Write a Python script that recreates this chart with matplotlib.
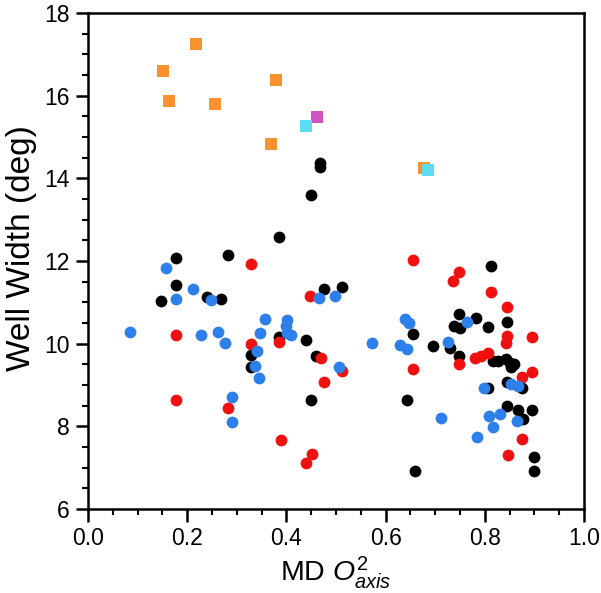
import matplotlib
matplotlib.use('Agg')
import matplotlib.pyplot as plt
from matplotlib.ticker import MultipleLocator, FormatStrFormatter

plt.rcParams['font.family'] = ['Liberation Sans', 'DejaVu Sans']
plt.rcParams['mathtext.fontset'] = 'custom'
plt.rcParams['mathtext.rm'] = 'Liberation Sans'
plt.rcParams['mathtext.it'] = 'Liberation Sans:italic'

# black circles
black_x = [0.147, 0.177, 0.178, 0.239, 0.268, 0.282, 0.328, 0.328, 0.386, 0.386,
           0.439, 0.449, 0.450, 0.460, 0.468, 0.468, 0.475, 0.512, 0.6425, 0.656,
           0.659, 0.695, 0.730, 0.738, 0.750, 0.7485, 0.7485, 0.782, 0.806, 0.806,
           0.812, 0.8175, 0.827, 0.8425, 0.8445, 0.844, 0.8445, 0.8505, 0.852, 0.859,
           0.867, 0.876, 0.877, 0.896, 0.900, 0.900]
black_y = [11.02, 12.08, 11.42, 11.12, 11.08, 12.15, 9.73, 9.44, 12.59, 10.15,
           10.09, 13.60, 8.64, 9.69, 14.38, 14.28, 11.32, 11.36, 8.64, 10.23,
           6.92, 9.94, 9.89, 10.43, 10.39, 10.72, 9.70, 10.63, 10.40, 8.92,
           11.89, 9.58, 9.59, 9.62, 10.53, 9.06, 8.49, 9.53, 9.44, 9.50,
           8.40, 8.92, 8.18, 8.40, 7.25, 6.92]

# red circles
red_x = [0.177, 0.177, 0.282, 0.328, 0.329, 0.385, 0.390, 0.440, 0.452, 0.448,
         0.469, 0.475, 0.512, 0.656, 0.656, 0.735, 0.748, 0.7485, 0.780, 0.792,
         0.806, 0.812, 0.8425, 0.8445, 0.8445, 0.846, 0.875, 0.875, 0.896, 0.896]
red_y = [10.22, 8.64, 8.44, 9.99, 11.93, 10.05, 7.67, 7.12, 7.32, 11.15,
         9.65, 9.08, 9.35, 12.02, 9.38, 11.52, 11.74, 9.50, 9.66, 9.71,
         9.77, 11.24, 10.01, 10.19, 10.88, 7.31, 9.19, 7.69, 10.15, 9.32]

# blue circles
blue_x = [0.085, 0.157, 0.178, 0.212, 0.228, 0.249, 0.262, 0.277, 0.291, 0.291,
          0.336, 0.341, 0.344, 0.346, 0.3575, 0.400, 0.402, 0.402, 0.410, 0.465,
          0.497, 0.507, 0.573, 0.629, 0.640, 0.644, 0.648, 0.7115, 0.725, 0.764,
          0.784, 0.799, 0.809, 0.8175, 0.831, 0.852, 0.8645, 0.866]
blue_y = [10.27, 11.82, 11.08, 11.32, 10.22, 11.06, 10.27, 10.02, 8.70, 8.10,
          9.46, 9.83, 9.16, 10.25, 10.59, 10.43, 10.57, 10.25, 10.21, 11.11,
          11.16, 9.44, 10.02, 9.97, 10.60, 9.86, 10.51, 8.19, 10.05, 10.53,
          7.75, 8.93, 8.26, 7.98, 8.30, 9.02, 8.13, 8.98]

# squares
orange_x = [0.1515, 0.1636, 0.217, 0.2555, 0.3696, 0.3797, 0.678]
orange_y = [16.60, 15.87, 17.26, 15.80, 14.84, 16.39, 14.26]
cyan_x = [0.4386, 0.685]
cyan_y = [15.27, 14.20]
magenta_x = [0.461]
magenta_y = [15.48]

fig = plt.figure(figsize=(6.01, 5.93), dpi=100)
ax = fig.add_axes([0.1464, 0.1417, 0.8253, 0.8364])

ms = 72
ax.scatter(black_x, black_y, s=ms, color='#000000', linewidths=0, zorder=3)
ax.scatter(red_x, red_y, s=ms, color='#f01010', linewidths=0, zorder=3)
ax.scatter(blue_x, blue_y, s=ms, color='#2d7fea', linewidths=0, zorder=3)
ax.scatter(orange_x, orange_y, s=65, marker='s', color='#f7922e', linewidths=0, zorder=3)
ax.scatter(magenta_x, magenta_y, s=65, marker='s', color='#d052bf', linewidths=0, zorder=3)
ax.scatter(cyan_x, cyan_y, s=65, marker='s', color='#5cdcf2', linewidths=0, zorder=4)

ax.set_xlim(0.0, 1.0)
ax.set_ylim(6, 18)
ax.xaxis.set_major_locator(MultipleLocator(0.2))
ax.xaxis.set_minor_locator(MultipleLocator(0.05))
ax.yaxis.set_major_locator(MultipleLocator(2))
ax.yaxis.set_minor_locator(MultipleLocator(0.5))
ax.xaxis.set_major_formatter(FormatStrFormatter('%.1f'))

for s in ax.spines.values():
    s.set_linewidth(1.8)
ax.tick_params(which='major', direction='out', length=9, width=1.8, labelsize=16.5, pad=4)
ax.tick_params(which='minor', direction='out', length=4.5, width=1.5)
ax.tick_params(top=False, right=False, which='both')

ax.set_xlabel(r'MD $\mathit{O}^{2}_{axis}$', fontsize=20.5, labelpad=3)
ax.set_ylabel('Well Width (deg)', fontsize=24)
ax.yaxis.set_label_coords(-0.103, 0.526)

fig.savefig('out.png', dpi=100)
